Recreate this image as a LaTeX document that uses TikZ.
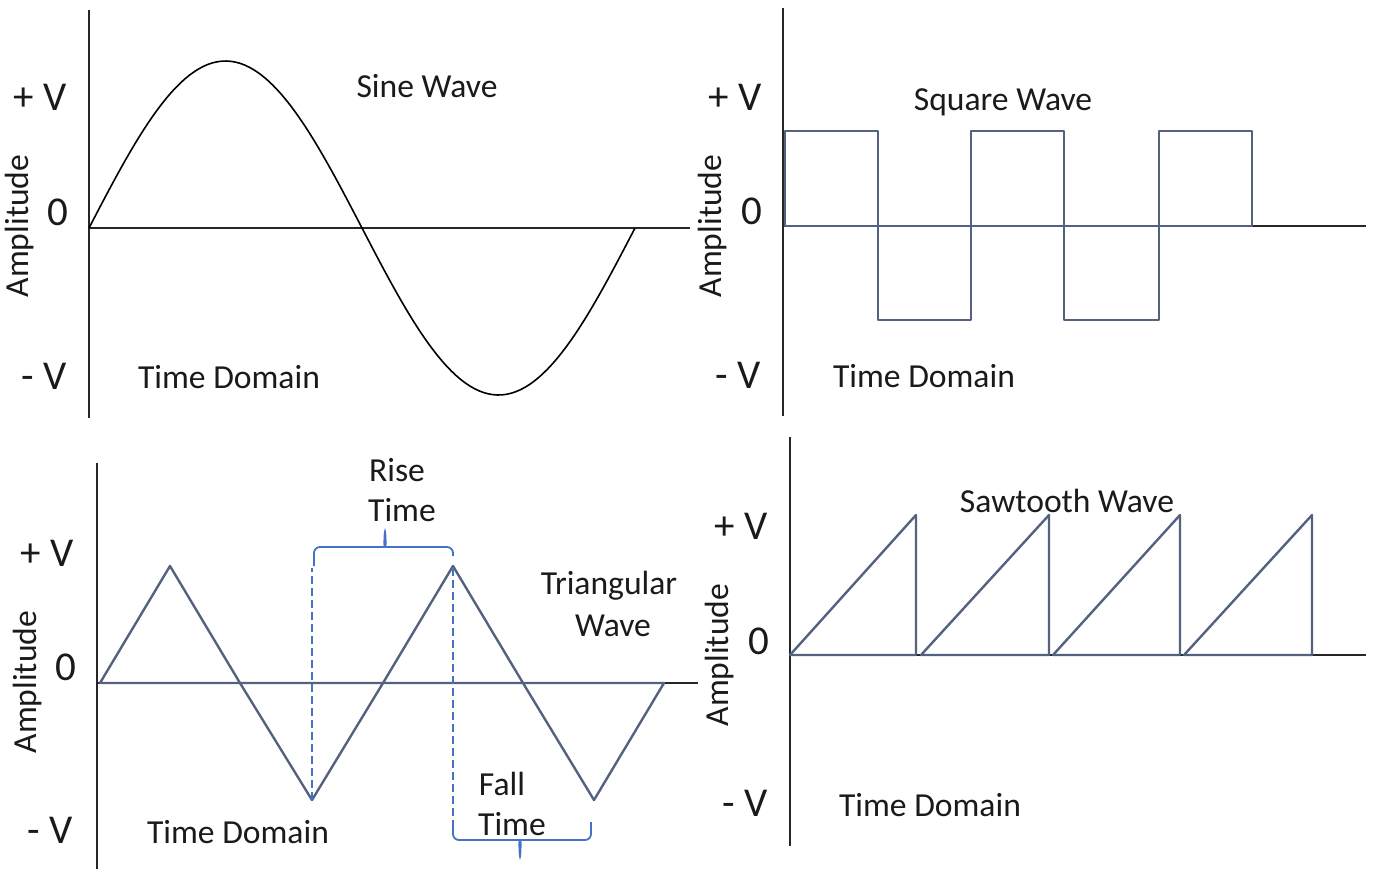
\documentclass[tikz,border=0pt]{standalone}
\usepackage{fontspec}
\setmainfont{Carlito}
\usetikzlibrary{positioning}
\definecolor{wavecol}{RGB}{84,98,128}
\definecolor{bracecol}{RGB}{68,114,196}
\definecolor{axiscol}{RGB}{38,38,38}
\definecolor{txtcol}{RGB}{26,26,26}
\tikzset{
  axis/.style={draw=axiscol, line width=1pt},
  wave/.style={draw=wavecol, line width=1.2pt, line join=round},
  lbl/.style={text=txtcol, font=\fontsize{16.8}{20}\selectfont, inner sep=0pt},
  vlbl/.style={text=txtcol, font=\fontsize{20.5}{24}\selectfont, inner sep=0pt},
  ylbl/.style={lbl, rotate=90},
  guide/.style={draw=bracecol, line width=0.8pt, dash pattern=on 4pt off 2pt},
  bracket/.style={draw=bracecol, line width=0.9pt, rounded corners=3pt}
}
\begin{document}
\begin{tikzpicture}[x=0.5pt, y=-0.5pt]
\useasboundingbox (0,0) rectangle (1375,869);
% sine wave
\coordinate (sinetop) at (89,10);
\coordinate (sinebot) at (89,418);
\coordinate (sineorg) at (89,228);
\coordinate (sineend) at (690,228);
\draw[axis] (sinetop) -- (sinebot);
\draw[axis] (sineorg) -- (sineend);
\draw[black, line width=0.8pt] plot[domain=0:546, samples=120] ({89+\x}, {228-167*sin(\x/546*360)});
\node[vlbl] (sinepv) at (40,97) {+ V};
\node[vlbl] (sinezero) at (58,212) {0};
\node[vlbl] (sinemv) at (44,376) {- V};
\node[ylbl] (sineamp) at (20,226) {Amplitude};
\node[lbl] (sinetitle) at (427,86) {Sine Wave};
\node[lbl] (sinetime) at (229,377) {Time Domain};
% square wave
\coordinate (sqtop) at (783,8);
\coordinate (sqbot) at (783,416);
\coordinate (sqorg) at (783,226);
\coordinate (sqend) at (1366,226);
\draw[axis] (sqtop) -- (sqbot);
\draw[axis] (sqorg) -- (sqend);
\foreach \a/\b/\h in {785/878/131, 878/971/320, 971/1064/131, 1064/1159/320, 1159/1252/131}{
    \draw[wave] (\a,226) rectangle (\b,\h);
}
\node[vlbl] (sqpv) at (735,97) {+ V};
\node[vlbl] (sqzero) at (752,211) {0};
\node[vlbl] (sqmv) at (738,375) {- V};
\node[ylbl] (sqamp) at (713,226) {Amplitude};
\node[lbl] (sqtitle) at (1003,102) {Square Wave};
\node[lbl] (sqtime) at (924,376) {Time Domain};
% triangular wave
\coordinate (tritop) at (97,463);
\coordinate (tribot) at (97,869);
\coordinate (triorg) at (97,683);
\coordinate (triend) at (698,683);
\draw[axis] (tritop) -- (tribot);
\draw[axis] (triorg) -- (triend);
\foreach \a/\m/\b/\h in {100/170/240/566, 240/312/383/800, 383/453/523/566, 523/594/664/800}{
    \draw[wave] (\a,683) -- (\m,\h) -- (\b,683) -- cycle;
}
\node[vlbl] (tripv) at (47,553) {+ V};
\node[vlbl] (trizero) at (66,667) {0};
\node[vlbl] (trimv) at (50,830) {- V};
\node[ylbl] (triamp) at (28,682) {Amplitude};
\node[lbl] (tritime) at (238,832) {Time Domain};
\node[lbl] (trititle) at (609,586) {Triangular};
\node[lbl] (trititleb) at (613,626) {Wave};
% rise and fall time
\coordinate (trough) at (312,800);
\coordinate (troughup) at (312,568);
\coordinate (peak) at (453,568);
\coordinate (peakdown) at (453,822);
\draw[guide] (trough) -- (troughup);
\draw[guide] (peak) -- (peakdown);
\draw[bracket] (314,566) |- (381,547) .. controls (384,547) .. (385,528)
    .. controls (386,547) .. (389,547) -| (453,556);
\draw[bracket] (453,820) |- (516,840) .. controls (519,840) .. (520,860)
    .. controls (521,840) .. (524,840) -| (591,822);
\node[lbl] (rise) at (397,470) {Rise};
\node[lbl] (risetime) at (402,510) {Time};
\node[lbl] (fall) at (502,784) {Fall};
\node[lbl] (falltime) at (512,824) {Time};
% sawtooth wave
\coordinate (sawtop) at (790,437);
\coordinate (sawbot) at (790,846);
\coordinate (saworg) at (790,655);
\coordinate (sawend) at (1366,655);
\draw[axis] (sawtop) -- (sawbot);
\draw[axis] (saworg) -- (sawend);
\foreach \a/\b in {790/916, 921/1049, 1053/1180, 1184/1312}{
    \draw[wave] (\a,655) -- (\b,515) -- (\b,655) -- cycle;
}
\node[vlbl] (sawpv) at (741,526) {+ V};
\node[vlbl] (sawzero) at (759,641) {0};
\node[vlbl] (sawmv) at (745,803) {- V};
\node[ylbl] (sawamp) at (720,655) {Amplitude};
\node[lbl] (sawtitle) at (1067,501) {Sawtooth Wave};
\node[lbl] (sawtime) at (930,805) {Time Domain};
\end{tikzpicture}
\end{document}
